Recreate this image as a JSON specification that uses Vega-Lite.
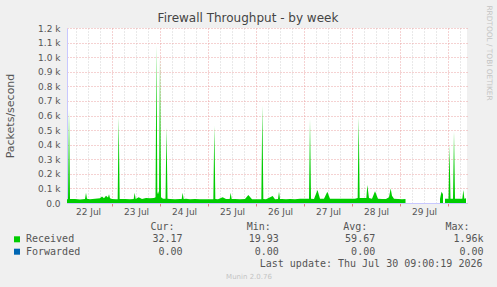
{
  "$schema": "https://vega.github.io/schema/vega-lite/v6.json",
  "width": 400,
  "height": 175,
  "autosize": {"type": "none"},
  "padding": {"left": 67, "top": 28, "right": 30, "bottom": 84},
  "background": "#f0f0f0",
  "title": {"text": "Firewall Throughput - by week", "font": "DejaVu Sans", "fontSize": 12, "fontWeight": "normal", "color": "#444444", "anchor": "middle", "dx": -19, "offset": -20},
  "data": {"values": [
    {"t": "2026-07-22T01:30", "v": 25, "s": "Received", "g": 1},
    {"t": "2026-07-22T02:00", "v": 26, "s": "Received", "g": 1},
    {"t": "2026-07-22T02:30", "v": 640, "s": "Received", "g": 1},
    {"t": "2026-07-22T03:00", "v": 27, "s": "Received", "g": 1},
    {"t": "2026-07-22T05:30", "v": 28, "s": "Received", "g": 1},
    {"t": "2026-07-22T08:00", "v": 24, "s": "Received", "g": 1},
    {"t": "2026-07-22T10:30", "v": 28, "s": "Received", "g": 1},
    {"t": "2026-07-22T11:00", "v": 70, "s": "Received", "g": 1},
    {"t": "2026-07-22T11:30", "v": 30, "s": "Received", "g": 1},
    {"t": "2026-07-22T13:00", "v": 25, "s": "Received", "g": 1},
    {"t": "2026-07-22T15:30", "v": 30, "s": "Received", "g": 1},
    {"t": "2026-07-22T18:00", "v": 32, "s": "Received", "g": 1},
    {"t": "2026-07-22T19:00", "v": 45, "s": "Received", "g": 1},
    {"t": "2026-07-22T20:00", "v": 33, "s": "Received", "g": 1},
    {"t": "2026-07-22T21:00", "v": 50, "s": "Received", "g": 1},
    {"t": "2026-07-22T22:00", "v": 38, "s": "Received", "g": 1},
    {"t": "2026-07-22T22:30", "v": 60, "s": "Received", "g": 1},
    {"t": "2026-07-22T23:00", "v": 33, "s": "Received", "g": 1},
    {"t": "2026-07-23T00:00", "v": 28, "s": "Received", "g": 1},
    {"t": "2026-07-23T02:00", "v": 25, "s": "Received", "g": 1},
    {"t": "2026-07-23T02:50", "v": 26, "s": "Received", "g": 1},
    {"t": "2026-07-23T03:20", "v": 590, "s": "Received", "g": 1},
    {"t": "2026-07-23T03:50", "v": 27, "s": "Received", "g": 1},
    {"t": "2026-07-23T06:30", "v": 27, "s": "Received", "g": 1},
    {"t": "2026-07-23T09:00", "v": 25, "s": "Received", "g": 1},
    {"t": "2026-07-23T10:50", "v": 28, "s": "Received", "g": 1},
    {"t": "2026-07-23T11:20", "v": 70, "s": "Received", "g": 1},
    {"t": "2026-07-23T11:50", "v": 28, "s": "Received", "g": 1},
    {"t": "2026-07-23T13:20", "v": 40, "s": "Received", "g": 1},
    {"t": "2026-07-23T15:00", "v": 28, "s": "Received", "g": 1},
    {"t": "2026-07-23T17:00", "v": 35, "s": "Received", "g": 1},
    {"t": "2026-07-23T19:00", "v": 33, "s": "Received", "g": 1},
    {"t": "2026-07-23T21:00", "v": 35, "s": "Received", "g": 1},
    {"t": "2026-07-23T21:45", "v": 40, "s": "Received", "g": 1},
    {"t": "2026-07-23T22:15", "v": 1080, "s": "Received", "g": 1},
    {"t": "2026-07-23T22:40", "v": 60, "s": "Received", "g": 1},
    {"t": "2026-07-23T23:06", "v": 80, "s": "Received", "g": 1},
    {"t": "2026-07-23T23:30", "v": 60, "s": "Received", "g": 1},
    {"t": "2026-07-24T00:00", "v": 1000, "s": "Received", "g": 1},
    {"t": "2026-07-24T00:30", "v": 40, "s": "Received", "g": 1},
    {"t": "2026-07-24T01:30", "v": 30, "s": "Received", "g": 1},
    {"t": "2026-07-24T02:45", "v": 30, "s": "Received", "g": 1},
    {"t": "2026-07-24T03:15", "v": 520, "s": "Received", "g": 1},
    {"t": "2026-07-24T03:45", "v": 30, "s": "Received", "g": 1},
    {"t": "2026-07-24T05:00", "v": 28, "s": "Received", "g": 1},
    {"t": "2026-07-24T07:30", "v": 25, "s": "Received", "g": 1},
    {"t": "2026-07-24T10:00", "v": 28, "s": "Received", "g": 1},
    {"t": "2026-07-24T10:50", "v": 28, "s": "Received", "g": 1},
    {"t": "2026-07-24T11:20", "v": 70, "s": "Received", "g": 1},
    {"t": "2026-07-24T11:50", "v": 28, "s": "Received", "g": 1},
    {"t": "2026-07-24T13:00", "v": 30, "s": "Received", "g": 1},
    {"t": "2026-07-24T15:00", "v": 25, "s": "Received", "g": 1},
    {"t": "2026-07-24T17:30", "v": 28, "s": "Received", "g": 1},
    {"t": "2026-07-24T20:00", "v": 25, "s": "Received", "g": 1},
    {"t": "2026-07-24T22:30", "v": 25, "s": "Received", "g": 1},
    {"t": "2026-07-25T01:00", "v": 25, "s": "Received", "g": 1},
    {"t": "2026-07-25T02:40", "v": 25, "s": "Received", "g": 1},
    {"t": "2026-07-25T03:10", "v": 530, "s": "Received", "g": 1},
    {"t": "2026-07-25T03:40", "v": 28, "s": "Received", "g": 1},
    {"t": "2026-07-25T05:00", "v": 25, "s": "Received", "g": 1},
    {"t": "2026-07-25T07:20", "v": 40, "s": "Received", "g": 1},
    {"t": "2026-07-25T09:00", "v": 27, "s": "Received", "g": 1},
    {"t": "2026-07-25T10:50", "v": 27, "s": "Received", "g": 1},
    {"t": "2026-07-25T11:20", "v": 70, "s": "Received", "g": 1},
    {"t": "2026-07-25T11:50", "v": 27, "s": "Received", "g": 1},
    {"t": "2026-07-25T13:30", "v": 27, "s": "Received", "g": 1},
    {"t": "2026-07-25T16:00", "v": 25, "s": "Received", "g": 1},
    {"t": "2026-07-25T18:30", "v": 27, "s": "Received", "g": 1},
    {"t": "2026-07-25T20:10", "v": 55, "s": "Received", "g": 1},
    {"t": "2026-07-25T22:00", "v": 25, "s": "Received", "g": 1},
    {"t": "2026-07-26T00:00", "v": 25, "s": "Received", "g": 1},
    {"t": "2026-07-26T02:40", "v": 25, "s": "Received", "g": 1},
    {"t": "2026-07-26T03:10", "v": 670, "s": "Received", "g": 1},
    {"t": "2026-07-26T03:40", "v": 28, "s": "Received", "g": 1},
    {"t": "2026-07-26T05:00", "v": 25, "s": "Received", "g": 1},
    {"t": "2026-07-26T08:20", "v": 48, "s": "Received", "g": 1},
    {"t": "2026-07-26T09:30", "v": 25, "s": "Received", "g": 1},
    {"t": "2026-07-26T11:00", "v": 28, "s": "Received", "g": 1},
    {"t": "2026-07-26T11:30", "v": 78, "s": "Received", "g": 1},
    {"t": "2026-07-26T12:00", "v": 28, "s": "Received", "g": 1},
    {"t": "2026-07-26T13:00", "v": 28, "s": "Received", "g": 1},
    {"t": "2026-07-26T15:00", "v": 25, "s": "Received", "g": 1},
    {"t": "2026-07-26T17:00", "v": 27, "s": "Received", "g": 1},
    {"t": "2026-07-26T19:30", "v": 25, "s": "Received", "g": 1},
    {"t": "2026-07-26T22:00", "v": 30, "s": "Received", "g": 1},
    {"t": "2026-07-27T00:00", "v": 30, "s": "Received", "g": 1},
    {"t": "2026-07-27T02:30", "v": 30, "s": "Received", "g": 1},
    {"t": "2026-07-27T03:00", "v": 575, "s": "Received", "g": 1},
    {"t": "2026-07-27T03:30", "v": 30, "s": "Received", "g": 1},
    {"t": "2026-07-27T05:00", "v": 28, "s": "Received", "g": 1},
    {"t": "2026-07-27T06:45", "v": 90, "s": "Received", "g": 1},
    {"t": "2026-07-27T08:00", "v": 30, "s": "Received", "g": 1},
    {"t": "2026-07-27T10:00", "v": 30, "s": "Received", "g": 1},
    {"t": "2026-07-27T11:40", "v": 78, "s": "Received", "g": 1},
    {"t": "2026-07-27T13:00", "v": 30, "s": "Received", "g": 1},
    {"t": "2026-07-27T15:30", "v": 30, "s": "Received", "g": 1},
    {"t": "2026-07-27T18:00", "v": 30, "s": "Received", "g": 1},
    {"t": "2026-07-27T20:30", "v": 30, "s": "Received", "g": 1},
    {"t": "2026-07-27T23:00", "v": 30, "s": "Received", "g": 1},
    {"t": "2026-07-28T01:30", "v": 30, "s": "Received", "g": 1},
    {"t": "2026-07-28T02:50", "v": 35, "s": "Received", "g": 1},
    {"t": "2026-07-28T03:20", "v": 590, "s": "Received", "g": 1},
    {"t": "2026-07-28T03:50", "v": 35, "s": "Received", "g": 1},
    {"t": "2026-07-28T05:30", "v": 35, "s": "Received", "g": 1},
    {"t": "2026-07-28T07:10", "v": 35, "s": "Received", "g": 1},
    {"t": "2026-07-28T07:40", "v": 124, "s": "Received", "g": 1},
    {"t": "2026-07-28T08:30", "v": 35, "s": "Received", "g": 1},
    {"t": "2026-07-28T10:00", "v": 30, "s": "Received", "g": 1},
    {"t": "2026-07-28T11:30", "v": 80, "s": "Received", "g": 1},
    {"t": "2026-07-28T13:00", "v": 30, "s": "Received", "g": 1},
    {"t": "2026-07-28T15:00", "v": 28, "s": "Received", "g": 1},
    {"t": "2026-07-28T17:00", "v": 28, "s": "Received", "g": 1},
    {"t": "2026-07-28T18:30", "v": 40, "s": "Received", "g": 1},
    {"t": "2026-07-28T19:20", "v": 100, "s": "Received", "g": 1},
    {"t": "2026-07-28T20:00", "v": 50, "s": "Received", "g": 1},
    {"t": "2026-07-28T21:00", "v": 30, "s": "Received", "g": 1},
    {"t": "2026-07-28T23:00", "v": 28, "s": "Received", "g": 1},
    {"t": "2026-07-29T01:00", "v": 25, "s": "Received", "g": 1},
    {"t": "2026-07-29T02:45", "v": 28, "s": "Received", "g": 1},
    {"t": "2026-07-29T20:00", "v": 30, "s": "Received", "g": 2},
    {"t": "2026-07-29T20:45", "v": 78, "s": "Received", "g": 2},
    {"t": "2026-07-29T21:30", "v": 60, "s": "Received", "g": 2},
    {"t": "2026-07-29T22:30", "v": 30, "s": "Received", "g": 3},
    {"t": "2026-07-30T00:00", "v": 30, "s": "Received", "g": 3},
    {"t": "2026-07-30T00:15", "v": 30, "s": "Received", "g": 3},
    {"t": "2026-07-30T00:45", "v": 400, "s": "Received", "g": 3},
    {"t": "2026-07-30T01:15", "v": 30, "s": "Received", "g": 3},
    {"t": "2026-07-30T02:30", "v": 30, "s": "Received", "g": 3},
    {"t": "2026-07-30T03:00", "v": 490, "s": "Received", "g": 3},
    {"t": "2026-07-30T03:30", "v": 30, "s": "Received", "g": 3},
    {"t": "2026-07-30T05:00", "v": 30, "s": "Received", "g": 3},
    {"t": "2026-07-30T07:10", "v": 30, "s": "Received", "g": 3},
    {"t": "2026-07-30T07:40", "v": 90, "s": "Received", "g": 3},
    {"t": "2026-07-30T08:10", "v": 30, "s": "Received", "g": 3},
    {"t": "2026-07-30T09:00", "v": 32, "s": "Received", "g": 3},
    {"t": "2026-07-22T01:30", "v": 0, "s": "Forwarded", "g": 1},
    {"t": "2026-07-30T09:00", "v": 0, "s": "Forwarded", "g": 1}
  ]},
  "layer": [
    {
      "mark": {"type": "area", "opacity": 1, "interpolate": "linear"},
      "encoding": {
        "x": {
          "field": "t", "type": "temporal",
          "scale": {"domain": [{"year": 2026, "month": 7, "date": 22, "hours": 1, "minutes": 30}, {"year": 2026, "month": 7, "date": 30, "hours": 9, "minutes": 30}], "nice": false},
          "axis": {
            "title": "Last update: Thu Jul 30 09:00:19 2026",
            "titleFont": "DejaVu Sans Mono", "titleFontSize": 10, "titleColor": "#555555", "titleFontWeight": "normal",
            "titleX": 415, "titleY": 60, "titleAlign": "right", "titleBaseline": "middle", "titleAngle": 0,
            "values": [
              {"year": 2026, "month": 7, "date": 22, "hours": 6}, {"year": 2026, "month": 7, "date": 22, "hours": 12}, {"year": 2026, "month": 7, "date": 22, "hours": 18},
              {"year": 2026, "month": 7, "date": 23, "hours": 0}, {"year": 2026, "month": 7, "date": 23, "hours": 6}, {"year": 2026, "month": 7, "date": 23, "hours": 12}, {"year": 2026, "month": 7, "date": 23, "hours": 18},
              {"year": 2026, "month": 7, "date": 24, "hours": 0}, {"year": 2026, "month": 7, "date": 24, "hours": 6}, {"year": 2026, "month": 7, "date": 24, "hours": 12}, {"year": 2026, "month": 7, "date": 24, "hours": 18},
              {"year": 2026, "month": 7, "date": 25, "hours": 0}, {"year": 2026, "month": 7, "date": 25, "hours": 6}, {"year": 2026, "month": 7, "date": 25, "hours": 12}, {"year": 2026, "month": 7, "date": 25, "hours": 18},
              {"year": 2026, "month": 7, "date": 26, "hours": 0}, {"year": 2026, "month": 7, "date": 26, "hours": 6}, {"year": 2026, "month": 7, "date": 26, "hours": 12}, {"year": 2026, "month": 7, "date": 26, "hours": 18},
              {"year": 2026, "month": 7, "date": 27, "hours": 0}, {"year": 2026, "month": 7, "date": 27, "hours": 6}, {"year": 2026, "month": 7, "date": 27, "hours": 12}, {"year": 2026, "month": 7, "date": 27, "hours": 18},
              {"year": 2026, "month": 7, "date": 28, "hours": 0}, {"year": 2026, "month": 7, "date": 28, "hours": 6}, {"year": 2026, "month": 7, "date": 28, "hours": 12}, {"year": 2026, "month": 7, "date": 28, "hours": 18},
              {"year": 2026, "month": 7, "date": 29, "hours": 0}, {"year": 2026, "month": 7, "date": 29, "hours": 6}, {"year": 2026, "month": 7, "date": 29, "hours": 12}, {"year": 2026, "month": 7, "date": 29, "hours": 18},
              {"year": 2026, "month": 7, "date": 30, "hours": 0}, {"year": 2026, "month": 7, "date": 30, "hours": 6}
            ],
            "labelExpr": "hours(datum.value) == 12 ? timeFormat(datum.value, '%d %b') : ''",
            "labelOverlap": false, "labelFlush": false, "labelPadding": 1,
            "labelFont": "DejaVu Sans", "labelFontSize": 9, "labelColor": "#555555",
            "tickSize": 3,
            "tickColor": {"condition": {"test": "hours(datum.value) == 0", "value": "#e08080"}, "value": "rgba(0,0,0,0)"},
            "grid": true,
            "gridColor": {"condition": {"test": "hours(datum.value) == 0", "value": "#eaa4a4"}, "value": "#d2d2d2"},
            "gridDash": [1, 2],
            "domainColor": "#c8c8ff"
          }
        },
        "y": {
          "field": "v", "type": "quantitative", "stack": null,
          "scale": {"domain": [0, 1200], "nice": false},
          "axis": {
            "title": "Packets/second",
            "titleFont": "DejaVu Sans", "titleFontSize": 11, "titleColor": "#555555", "titleFontWeight": "normal",
            "titleX": -57, "titleY": 87.5, "titleAngle": -90, "titleAlign": "center", "titleBaseline": "middle",
            "values": [0, 100, 200, 300, 400, 500, 600, 700, 800, 900, 1000, 1100, 1200],
            "labelExpr": "datum.value == 0 ? '0.0' : format(datum.value / 1000, '.1f') + ' k'",
            "labelFont": "DejaVu Sans", "labelFontSize": 9, "labelColor": "#555555",
            "labelOverlap": false, "labelFlush": false,
            "ticks": false, "tickSize": 0, "labelPadding": 7,
            "grid": true, "gridColor": "#eaa4a4", "gridDash": [1, 2],
            "domainColor": "#c8c8ff"
          }
        },
        "color": {
          "field": "s", "type": "nominal",
          "scale": {"domain": ["Received", "Forwarded"], "range": ["#00cc00", "#0066b3"]},
          "legend": {
            "orient": "none", "legendX": -55, "legendY": 194, "direction": "vertical", "padding": 0,
            "title": "\u200b\u00a0\u00a0\u00a0\u00a0\u00a0\u00a0\u00a0\u00a0\u00a0\u00a0\u00a0\u00a0\u00a0\u00a0\u00a0\u00a0\u00a0\u00a0\u00a0\u00a0\u00a0\u00a0\u00a0Cur:\u00a0\u00a0\u00a0\u00a0\u00a0\u00a0\u00a0\u00a0\u00a0\u00a0\u00a0\u00a0Min:\u00a0\u00a0\u00a0\u00a0\u00a0\u00a0\u00a0\u00a0\u00a0\u00a0\u00a0\u00a0Avg:\u00a0\u00a0\u00a0\u00a0\u00a0\u00a0\u00a0\u00a0\u00a0\u00a0\u00a0\u00a0\u00a0Max:",
            "titleFont": "DejaVu Sans Mono", "titleFontSize": 10, "titleFontWeight": "normal", "titleColor": "#555555",
            "titleLimit": 2000, "titlePadding": 2.3,
            "symbolType": "square", "symbolSize": 36, "symbolStrokeWidth": 0, "symbolOpacity": 1,
            "labelFont": "DejaVu Sans Mono", "labelFontSize": 10, "labelColor": "#555555", "labelLimit": 2000, "labelOffset": 4,
            "rowPadding": 2.4,
            "labelExpr": "datum.label == 'Received' ? 'Received\u00a0\u00a0\u00a0\u00a0\u00a0\u00a0\u00a0\u00a0\u00a0\u00a0\u00a0\u00a0\u00a032.17\u00a0\u00a0\u00a0\u00a0\u00a0\u00a0\u00a0\u00a0\u00a0\u00a0\u00a019.93\u00a0\u00a0\u00a0\u00a0\u00a0\u00a0\u00a0\u00a0\u00a0\u00a0\u00a059.67\u00a0\u00a0\u00a0\u00a0\u00a0\u00a0\u00a0\u00a0\u00a0\u00a0\u00a0\u00a0\u00a01.96k' : 'Forwarded\u00a0\u00a0\u00a0\u00a0\u00a0\u00a0\u00a0\u00a0\u00a0\u00a0\u00a0\u00a0\u00a00.00\u00a0\u00a0\u00a0\u00a0\u00a0\u00a0\u00a0\u00a0\u00a0\u00a0\u00a0\u00a00.00\u00a0\u00a0\u00a0\u00a0\u00a0\u00a0\u00a0\u00a0\u00a0\u00a0\u00a0\u00a00.00\u00a0\u00a0\u00a0\u00a0\u00a0\u00a0\u00a0\u00a0\u00a0\u00a0\u00a0\u00a0\u00a0\u00a00.00'"
          }
        },
        "detail": {"field": "g", "type": "nominal"}
      }
    },
    {
      "transform": [{"filter": "datum.s == 'Forwarded'"}],
      "mark": {"type": "area", "opacity": 0},
      "encoding": {
        "x": {
          "field": "t", "type": "temporal",
          "axis": {
            "orient": "bottom", "title": "Munin 2.0.76",
            "labels": false, "ticks": false, "domain": false, "grid": false,
            "titleFont": "DejaVu Sans", "titleFontSize": 7, "titleColor": "#c4c4c4", "titleFontWeight": "normal",
            "titleX": 181.5, "titleY": 73, "titleAlign": "center", "titleBaseline": "middle", "titleAngle": 0
          }
        },
        "y": {
          "field": "v", "type": "quantitative",
          "axis": {
            "orient": "right", "title": "RRDTOOL / TOBI OETIKER",
            "labels": false, "ticks": false, "domain": false, "grid": false,
            "titleFont": "DejaVu Sans", "titleFontSize": 7.4, "titleColor": "#c4c4c4", "titleFontWeight": "normal",
            "titleX": 21, "titleY": 24.5, "titleAngle": 90, "titleAlign": "center", "titleBaseline": "middle"
          }
        }
      }
    }
  ],
  "resolve": {"axis": {"x": "independent", "y": "independent"}},
  "config": {
    "view": {"stroke": null, "fill": "#ffffff"},
    "font": "DejaVu Sans"
  }
}
